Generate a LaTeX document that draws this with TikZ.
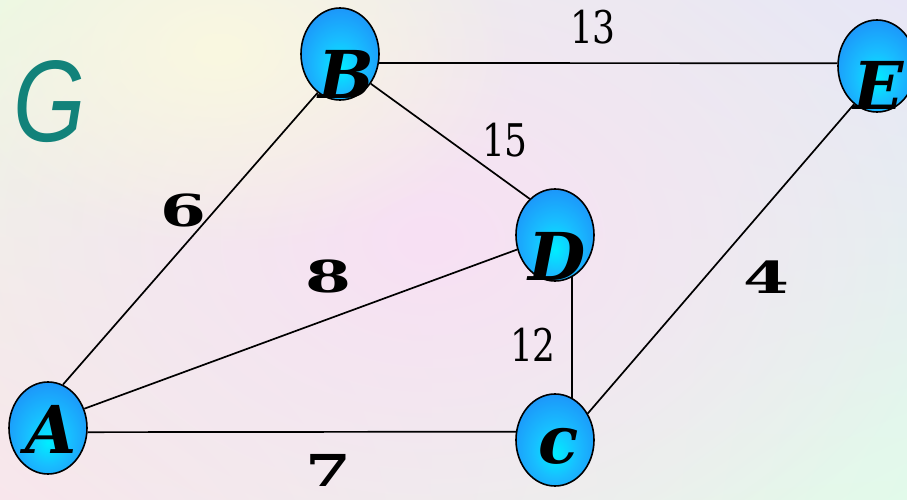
\documentclass[tikz,border=0pt]{standalone}
\usepackage{fontspec}
\usetikzlibrary{shapes}
\usetikzlibrary{calc}
\usetikzlibrary{fadings}
\usetikzlibrary{shadings}

\newfontfamily\vertexfont{DejaVu Serif}
\newfontfamily\weightfont{DejaVu Serif}[FakeStretch=1.5]
\newfontfamily\lightfont{DejaVu Serif}[FakeStretch=0.8]
\newfontfamily\graphfont{Liberation Sans}[FakeStretch=0.8]

\definecolor{vblue}{RGB}{30,138,248}
\definecolor{vmid}{RGB}{24,190,255}
\definecolor{vcyan}{RGB}{0,238,255}
\definecolor{gteal}{RGB}{18,130,122}
\definecolor{bgul}{RGB}{234,248,228}
\definecolor{bgur}{RGB}{232,230,246}
\definecolor{bgll}{RGB}{248,230,236}
\definecolor{bglr}{RGB}{226,250,234}
\definecolor{bgpink}{RGB}{248,224,244}
\definecolor{bgcream}{RGB}{250,248,224}

\pgfdeclareradialshading{vball}{\pgfpoint{0bp}{-8bp}}{color(0bp)=(vcyan); color(14bp)=(vmid); color(34bp)=(vblue); color(60bp)=(vblue)}
\tikzfading[name=blob fade, inner color=transparent!0, outer color=transparent!100]

\tikzset{
    vertex/.style={ellipse, minimum width=78pt, minimum height=92pt, inner sep=0pt,
        draw=black, line width=1.6pt, shading=vball},
    vname/.style={font=\vertexfont\bfseries\itshape\fontsize{66}{66}\selectfont,
        inner sep=0pt, anchor=base},
    edge/.style={line width=1.7pt},
    wlight/.style={font=\lightfont\fontsize{45}{45}\selectfont, inner sep=0pt},
    wbold/.style={font=\weightfont\bfseries\fontsize{44}{44}\selectfont, inner sep=0pt},
    gname/.style={font=\graphfont\itshape\fontsize{116}{116}\selectfont, text=gteal, inner sep=0pt}
}

\begin{document}
\begin{tikzpicture}[x=1pt,y=-1pt]
        % Background
        \useasboundingbox (0,0) rectangle (907,500);
        \begin{scope}
            \clip (0,0) rectangle (907,500);
            \shade [upper left=bgul, upper right=bgur, lower left=bgll, lower right=bglr]
            (0,0) rectangle (907,500);
            \fill [bgpink, path fading=blob fade] (430,240) ellipse (520 and 380);
            \fill [bgcream, path fading=blob fade] (220,50) ellipse (300 and 200);
        \end{scope}
        % Vertices
        \node (A) at (48,428) [vertex] {};
        \node (B) at (340,54) [vertex] {};
        \node (C) at (555,440) [vertex] {};
        \node (D) at (555,235) [vertex] {};
        \node (E) at (877,66) [vertex] {};
        % Edges
        \draw [edge] (A.71) -- (B.240);
        \draw [edge] (A.28) -- (D.201);
        \draw [edge] (A.-6) -- (C.168);
        \draw [edge] (B.-13) -- (E.176);
        \draw [edge] (B.-44) -- (D.125);
        \draw [edge] (D.-68) -- (C.68);
        \draw [edge] (C.39) -- (E.239);
        % Vertex names
        \node (A-t) at ([shift={(3pt,-25pt)}]A) [vname] {A};
        \node (B-t) at ([shift={(6pt,-45pt)}]B) [vname] {B};
        \node (C-t) at ([shift={(4pt,-23pt)}]C) [vname] {c};
        \node (D-t) at ([shift={(2pt,-45pt)}]D) [vname] {D};
        \node (E-t) at ([shift={(2pt,-44pt)}]E) [vname] {E};
        % Weights
        \node (w13) at (593,27) [wlight] {13};
        \node (w15) at (505,140) [wlight] {15};
        \node (w12) at (533,345) [wlight] {12};
        \node (w6) at (183,210) [wbold] {6};
        \node (w8) at (328,276) [wbold] {8};
        \node (w4) at (766,277) [wbold] {4};
        \node (w7) at (328,470) [wbold] {7};
        \node (G) at (50,102) [gname] {G};
\end{tikzpicture}
\end{document}
